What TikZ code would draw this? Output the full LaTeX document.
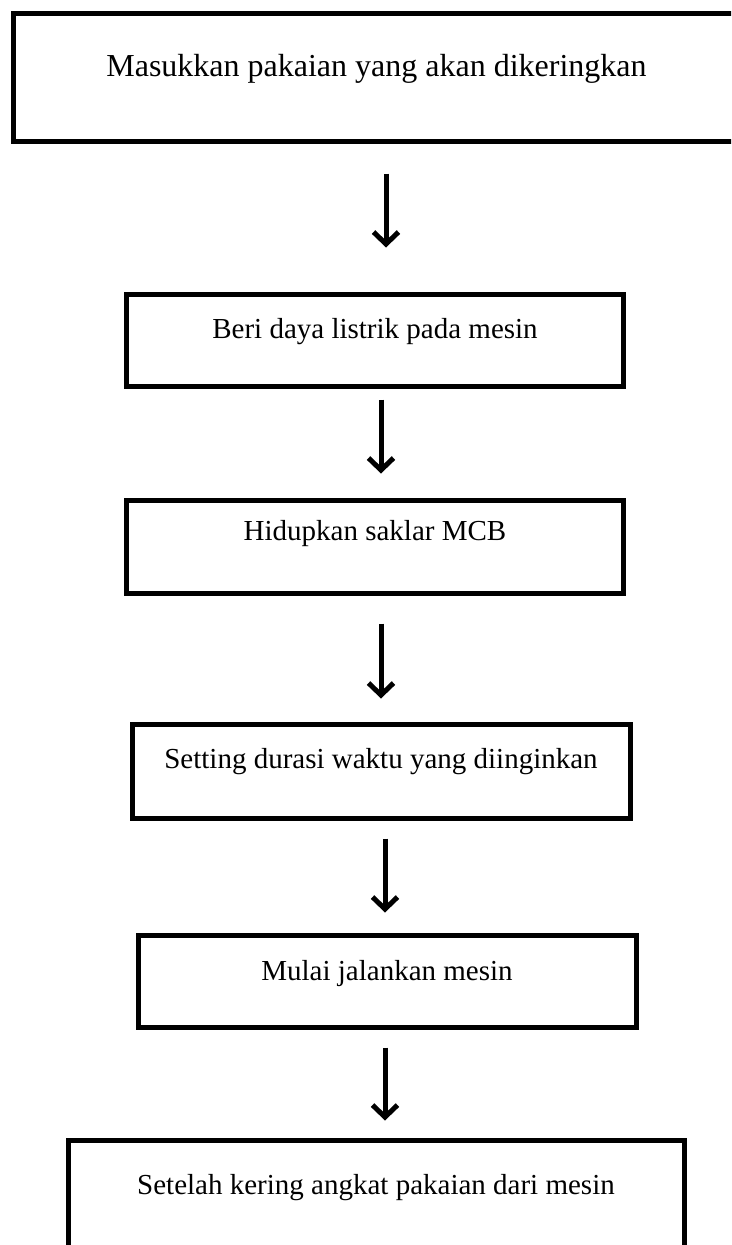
\documentclass[tikz,border=0pt]{standalone}
\usepackage{fontspec}
\setmainfont{Liberation Serif}
\usetikzlibrary{arrows.meta}
\begin{document}
\begin{tikzpicture}[x=1pt,y=-1pt,
  stepbox/.style={draw=black,line width=5pt,rectangle,inner sep=0pt},
  steptext/.style={anchor=base,inner sep=0pt,font=\fontsize{29}{34}\selectfont},
  arr/.style={line width=5pt,-{Straight Barb[length=12pt,width=25pt]}}]
\useasboundingbox (0,0) rectangle (731,1245);
\clip (0,0) rectangle (731,1245);
\fill[white] (0,0) rectangle (731,1245);
% boxes
\node[stepbox,minimum width=728pt,minimum height=128pt] (b1) at (377,77) {};
\node[stepbox,minimum width=497pt,minimum height=92pt] (b2) at (374.5,340) {};
\node[stepbox,minimum width=497pt,minimum height=93pt] (b3) at (374.5,546.5) {};
\node[stepbox,minimum width=498pt,minimum height=94pt] (b4) at (381,771) {};
\node[stepbox,minimum width=498pt,minimum height=92pt] (b5) at (387,981) {};
\node[stepbox,minimum width=616pt,minimum height=130pt] (b6) at (376,1205) {};
% texts
\node[steptext,font=\fontsize{32}{37}\selectfont] (t1) at (376.5,76.5) {Masukkan pakaian yang akan dikeringkan};
\node[steptext] (t2) at (375,338) {Beri daya listrik pada mesin};
\node[steptext] (t3) at (375,540) {Hidupkan saklar MCB};
\node[steptext] (t4) at (381,768) {Setting durasi waktu yang diinginkan};
\node[steptext] (t5) at (387,980) {Mulai jalankan mesin};
\node[steptext] (t6) at (376,1194) {Setelah kering angkat pakaian dari mesin};
% arrows
\draw[arr] ([xshift=9pt,yshift=-30pt]b1.south) -- ([xshift=11.5pt,yshift=44pt]b2.north);
\draw[arr] ([xshift=6.5pt,yshift=-11pt]b2.south) -- ([xshift=6.5pt,yshift=24pt]b3.north);
\draw[arr] ([xshift=6.5pt,yshift=-28pt]b3.south) -- ([xshift=0pt,yshift=23pt]b4.north);
\draw[arr] ([xshift=4pt,yshift=-18pt]b4.south) -- ([xshift=-2pt,yshift=20pt]b5.north);
\draw[arr] ([xshift=-2pt,yshift=-18pt]b5.south) -- ([xshift=9pt,yshift=17pt]b6.north);
\end{tikzpicture}
\end{document}
